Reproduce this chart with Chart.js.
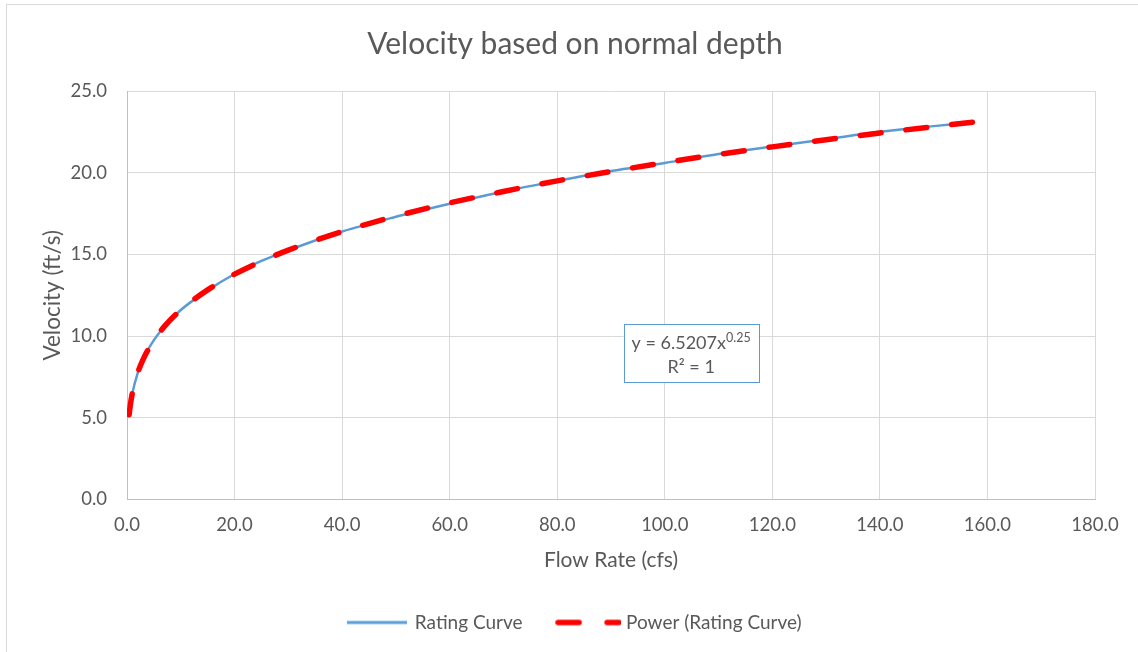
<!DOCTYPE html>
<html>
<head>
<meta charset="utf-8">
<script src="https://cdn.jsdelivr.net/npm/chart.js@4/dist/chart.umd.min.js"></script>
<style>
  html, body { margin: 0; padding: 0; background: #fff; }
  #wrap { width: 1138px; height: 652px; position: relative; }
</style>
</head>
<body>
<div id="wrap"><canvas id="c" width="1138" height="652"></canvas></div>
<script>
// Flow rate (cfs) and velocity (ft/s) for the rating curve
const flowRate = [0.4, 0.6, 1, 2, 3, 5, 7, 10, 15, 20, 25, 30, 40, 50, 60, 70, 80, 90, 100, 110, 120, 130, 140, 150, 157.5];
const velocity = [5.2, 5.7, 6.5, 7.75, 8.6, 9.75, 10.6, 11.6, 12.8, 13.8, 14.6, 15.25, 16.4, 17.3, 18.1, 18.85, 19.5, 20.1, 20.6, 21.15, 21.6, 22.05, 22.5, 22.85, 23.1];

// Power trendline through the same range
const trendFlow = [0.4, 0.6, 1, 2, 3, 5, 7, 10, 15, 20, 25, 30, 40, 50, 60, 70, 80, 90, 100, 110, 120, 130, 140, 150, 157.5];
const trendVelocity = [5.19, 5.74, 6.52, 7.75, 8.58, 9.75, 10.61, 11.6, 12.83, 13.79, 14.58, 15.26, 16.4, 17.34, 18.15, 18.85, 19.5, 20.07, 20.62, 21.12, 21.58, 22.02, 22.43, 22.82, 23.1];

const xTicks = [0, 20, 40, 60, 80, 100, 120, 140, 160, 180];
const yTicks = [0, 5, 10, 15, 20, 25];

const trendEquation = 'y = 6.5207x';
const trendExponent = '0.25';
const trendR2 = 'R² = 1';
const labelAt = { x: 104.9, y: 8.95 };

const FONT = 'Lato, "Open Sans", sans-serif';
const TEXT = '#595959';
const BLUE = '#5B9BD5';
const RED = '#FF0000';

function pts(xs, ys) { return xs.map((x, i) => ({ x, y: ys[i] })); }

// Legend symbols: a thin solid line and a thick dashed line
function legendLine(color, width, dash, w) {
  const cv = document.createElement('canvas');
  cv.width = w; cv.height = 10;
  const g = cv.getContext('2d');
  g.strokeStyle = color;
  g.lineWidth = width;
  g.lineCap = dash ? 'round' : 'butt';
  if (dash) g.setLineDash(dash);
  g.beginPath();
  if (dash) { g.moveTo(3, 5); g.lineTo(w - 2, 5); }
  else { g.moveTo(0, 5); g.lineTo(w, 5); }
  g.stroke();
  return cv;
}
const blueSymbol = legendLine(BLUE, 3, null, 60);
const redSymbol = legendLine(RED, 5.5, [21, 28], 66);

// Thin frame around the whole chart
const framePlugin = {
  id: 'frame',
  beforeDraw(chart) {
    const ctx = chart.ctx;
    ctx.save();
    ctx.fillStyle = '#fff';
    ctx.fillRect(0, 0, chart.width, chart.height);
    ctx.strokeStyle = '#D9D9D9';
    ctx.lineWidth = 1;
    ctx.strokeRect(6.5, 4.5, chart.width + 10, chart.height + 10);
    ctx.restore();
  }
};

// Trendline equation box
const equationPlugin = {
  id: 'equation',
  afterDatasetsDraw(chart) {
    const ctx = chart.ctx;
    const cx = chart.scales.x.getPixelForValue(labelAt.x);
    const cy = chart.scales.y.getPixelForValue(labelAt.y);
    const w = 135, h = 58;
    ctx.save();
    ctx.fillStyle = '#fff';
    ctx.fillRect(cx - w / 2, cy - h / 2, w, h);
    ctx.strokeStyle = BLUE;
    ctx.lineWidth = 1;
    ctx.strokeRect(Math.round(cx - w / 2) + 0.5, Math.round(cy - h / 2) + 0.5, w, h);
    ctx.fillStyle = TEXT;
    ctx.textBaseline = 'alphabetic';
    const mainFont = '18px ' + FONT;
    const supFont = '12.5px ' + FONT;
    ctx.font = mainFont;
    const w1 = ctx.measureText(trendEquation).width;
    ctx.font = supFont;
    const w2 = ctx.measureText(trendExponent).width;
    const x0 = cx - (w1 + w2) / 2;
    const base1 = cy - 4;
    ctx.font = mainFont;
    ctx.textAlign = 'left';
    ctx.fillText(trendEquation, x0, base1);
    ctx.font = supFont;
    ctx.fillText(trendExponent, x0 + w1, base1 - 7);
    ctx.font = mainFont;
    ctx.textAlign = 'center';
    ctx.fillText(trendR2, cx, base1 + 24);
    ctx.restore();
  }
};

new Chart(document.getElementById('c'), {
  type: 'scatter',
  data: {
    datasets: [
      {
        label: 'Rating Curve',
        data: pts(flowRate, velocity),
        showLine: true,
        borderColor: BLUE,
        backgroundColor: BLUE,
        borderWidth: 2.5,
        pointRadius: 0,
        pointStyle: blueSymbol,
        cubicInterpolationMode: 'monotone',
        order: 2
      },
      {
        label: 'Power (Rating Curve)',
        data: pts(trendFlow, trendVelocity),
        showLine: true,
        borderColor: RED,
        backgroundColor: RED,
        borderWidth: 5.5,
        borderDash: [21, 25],
        borderCapStyle: 'round',
        pointRadius: 0,
        pointStyle: redSymbol,
        cubicInterpolationMode: 'monotone',
        order: 1
      }
    ]
  },
  options: {
    responsive: false,
    animation: false,
    layout: { padding: { left: 12, right: 0, top: 0, bottom: 10 } },
    plugins: {
      title: {
        display: true,
        text: 'Velocity based on normal depth',
        color: TEXT,
        font: { family: FONT, size: 30, weight: 'normal' },
        padding: { top: 26, bottom: 29 }
      },
      legend: {
        display: true,
        position: 'bottom',
        labels: {
          color: TEXT,
          font: { family: FONT, size: 19 },
          usePointStyle: true,
          pointStyleWidth: 57,
          boxHeight: 17,
          padding: 37,
          sort: (a, b) => a.datasetIndex - b.datasetIndex
        }
      },
      tooltip: { enabled: false }
    },
    scales: {
      x: {
        type: 'linear',
        min: 0, max: 180,
        afterBuildTicks(s) { s.ticks = xTicks.map(v => ({ value: v })); },
        afterFit(s) { s.height = 76.5; },
        grid: { color: '#D9D9D9', drawTicks: false },
        border: { color: '#BFBFBF', width: 1 },
        ticks: {
          color: TEXT,
          font: { family: FONT, size: 18.5 },
          padding: 14,
          callback: v => v.toFixed(1)
        },
        title: {
          display: true,
          text: 'Flow Rate (cfs)',
          color: TEXT,
          font: { family: FONT, size: 21 },
          padding: 3
        }
      },
      y: {
        type: 'linear',
        min: 0, max: 25,
        afterBuildTicks(s) { s.ticks = yTicks.map(v => ({ value: v })); },
        afterFit(s) { s.width = 115; },
        grid: { color: '#D9D9D9', drawTicks: false },
        border: { color: '#BFBFBF', width: 1 },
        ticks: {
          color: TEXT,
          font: { family: FONT, size: 18.5 },
          padding: 20,
          callback: v => v.toFixed(1)
        },
        title: {
          display: true,
          text: 'Velocity (ft/s)',
          color: TEXT,
          font: { family: FONT, size: 22.5 },
          padding: 27
        }
      },
      yRight: {
        position: 'right',
        display: true,
        grid: { display: false, drawTicks: false },
        border: { display: false },
        ticks: { display: false },
        afterFit(s) { s.width = 43; }
      }
    }
  },
  plugins: [framePlugin, equationPlugin]
});
</script>
</body>
</html>
